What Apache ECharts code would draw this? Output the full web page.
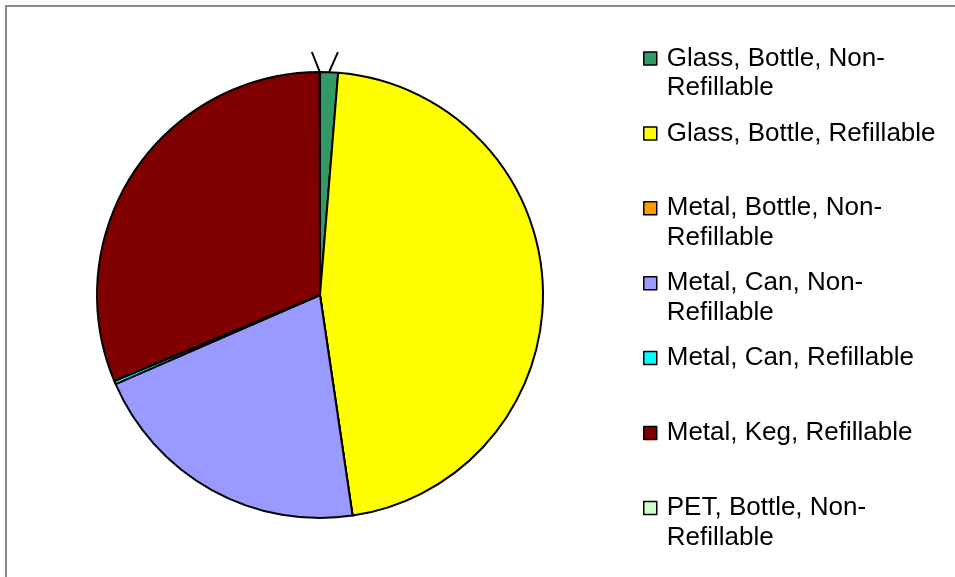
<!DOCTYPE html>
<html>
<head>
<meta charset="utf-8">
<script src="https://cdn.jsdelivr.net/npm/echarts@6/dist/echarts.min.js"></script>
<style>
  html, body { margin: 0; padding: 0; background: #ffffff; }
  #chart { width: 955px; height: 577px; }
</style>
</head>
<body>
<div id="chart"></div>
<script>
// Container types and their shares of the total (%)
const categories = [
  'Glass, Bottle, Non-Refillable',
  'Glass, Bottle, Refillable',
  'Metal, Bottle, Non-Refillable',
  'Metal, Can, Non-Refillable',
  'Metal, Can, Refillable',
  'Metal, Keg, Refillable',
  'PET, Bottle, Non-Refillable'
];
const shares = [1.3, 46.4, 0, 20.8, 0.25, 31.3, 0.02];
const colors = ['#339966', '#ffff00', '#ff9900', '#9999ff', '#00ffff', '#800000', '#ccffcc'];
// Legend text, wrapped the way it is shown
const legendLabels = [
  'Glass, Bottle, Non-\nRefillable',
  'Glass, Bottle, Refillable',
  'Metal, Bottle, Non-\nRefillable',
  'Metal, Can, Non-\nRefillable',
  'Metal, Can, Refillable',
  'Metal, Keg, Refillable',
  'PET, Bottle, Non-\nRefillable'
];
// Slices that keep a (blank) leader line
const leaderLines = [true, false, false, false, false, false, true];

const LINE_H = 29.5;
// Square marker sitting on the first text line of a two-line slot
const markerIcon = 'path://M0,0 M13,59 M0,8.25 L13,8.25 L13,21.25 L0,21.25 Z';

const chart = echarts.init(document.getElementById('chart'), null, { renderer: 'canvas' });

const seriesData = categories.map((name, i) => ({
  name: name,
  value: shares[i],
  itemStyle: { color: colors[i] },
  label: { show: leaderLines[i] },
  labelLine: { show: leaderLines[i] }
}));

// Every legend slot holds two lines so the entries are evenly spaced
const slotText = name => {
  const t = legendLabels[categories.indexOf(name)];
  return t.indexOf('\n') >= 0 ? t : t + '\n ';
};

chart.setOption({
  backgroundColor: '#ffffff',
  animation: false,
  graphic: [{
    type: 'rect',
    silent: true,
    shape: { x: 6, y: 6, width: 1200, height: 1200 },
    style: { fill: 'none', stroke: '#8a8a8a', lineWidth: 2 }
  }],
  legend: {
    orient: 'vertical',
    left: 643,
    top: 43,
    padding: 0,
    icon: markerIcon,
    itemWidth: 13,
    itemHeight: 59,
    itemGap: 14.4,
    selectedMode: false,
    itemStyle: { borderColor: '#000000', borderWidth: 1.5 },
    formatter: slotText,
    textStyle: {
      fontFamily: '"Liberation Sans", Arial, sans-serif',
      fontSize: 26,
      color: '#000000',
      lineHeight: LINE_H,
      padding: [0, 0, 0, 5]
    },
    data: categories
  },
  series: [{
    type: 'pie',
    center: [320, 295],
    radius: 223,
    startAngle: 90,
    clockwise: true,
    avoidLabelOverlap: false,
    minShowLabelAngle: 0,
    itemStyle: { borderColor: '#000000', borderWidth: 2 },
    emphasis: { disabled: true },
    label: {
      show: false,
      position: 'outside',
      formatter: ' ',
      fontSize: 10
    },
    labelLine: {
      show: false,
      length: 20,
      length2: 8,
      smooth: false,
      lineStyle: { color: '#000000', width: 2 }
    },
    // Leader lines run straight from the slice edge to the end of the elbow
    labelLayout: params => {
      const pts = params.labelLinePoints;
      return pts && pts.length === 3 ? { labelLinePoints: [pts[0], pts[2]] } : {};
    },
    data: seriesData
  }]
});
</script>
</body>
</html>
